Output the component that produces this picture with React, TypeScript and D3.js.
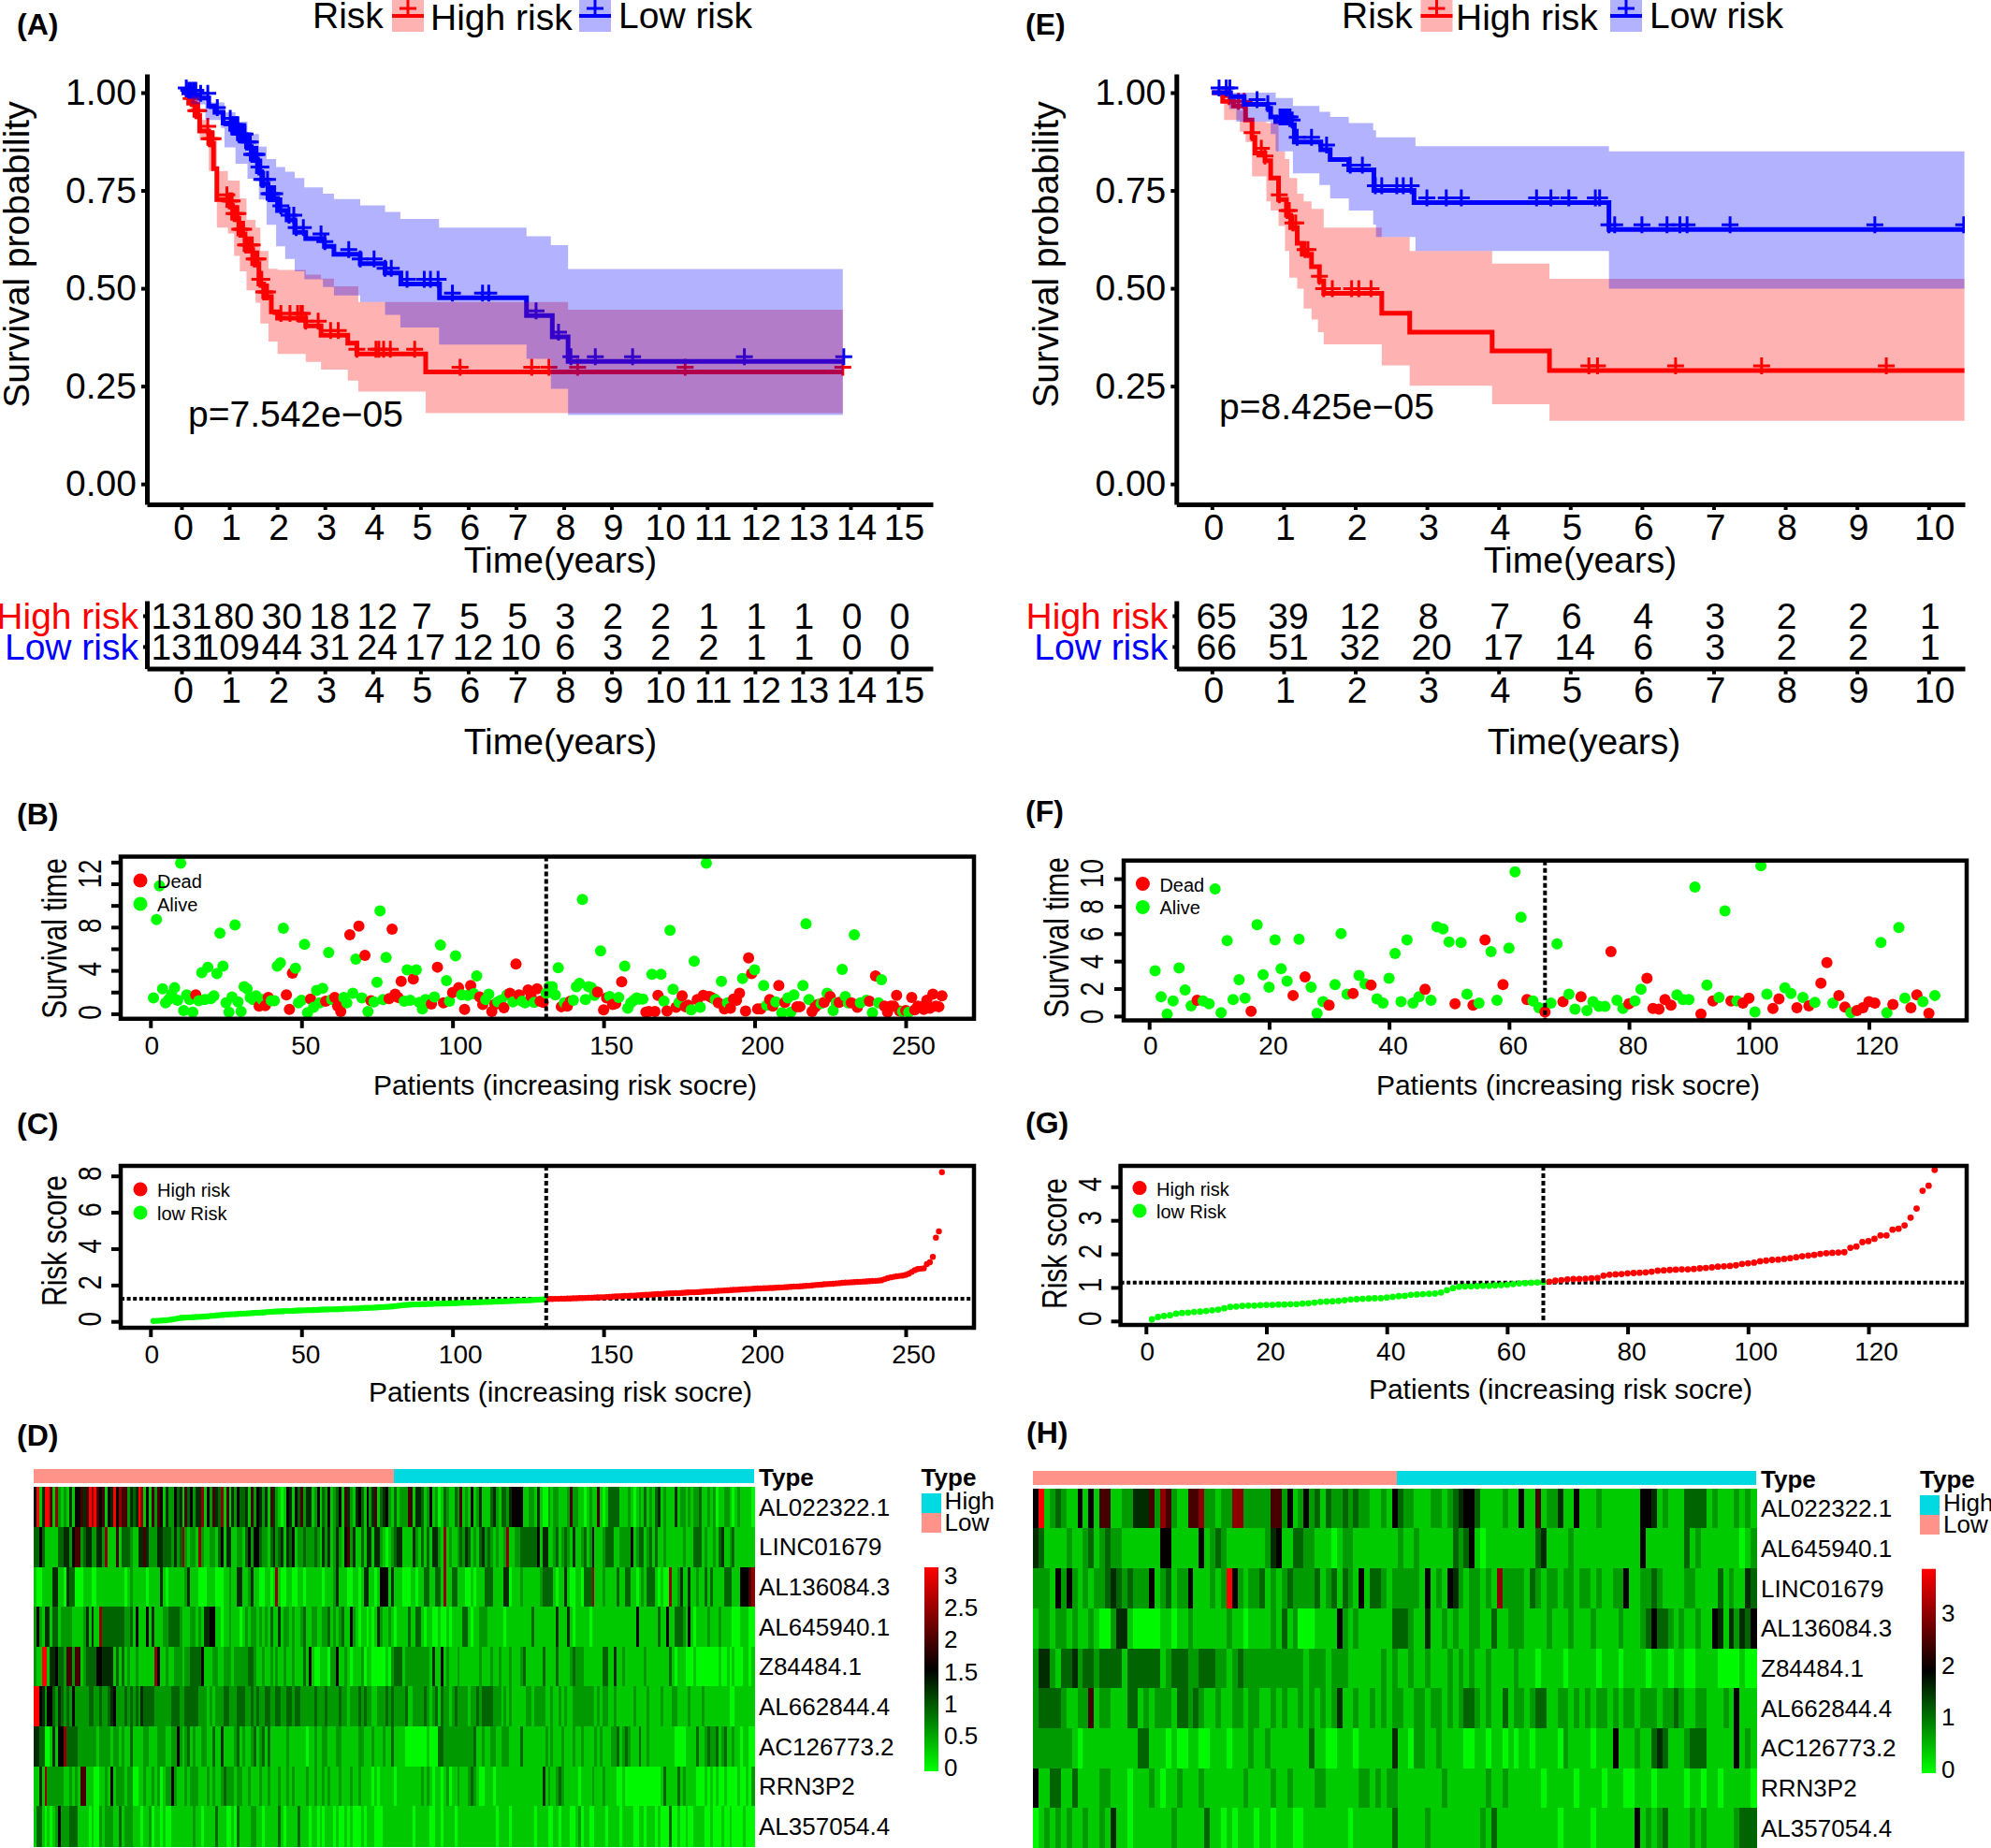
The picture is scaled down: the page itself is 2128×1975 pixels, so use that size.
import React, { useEffect, useRef } from 'react';
import * as d3 from 'd3';

// ---- Kaplan-Meier curves, panel A: [years, survival]
const highCurveA = [[0, 1], [0.15, 0.973], [0.28, 0.942], [0.38, 0.902], [0.57, 0.87], [0.67, 0.806], [0.74, 0.727], [0.97, 0.711], [1.07, 0.679], [1.2, 0.639], [1.33, 0.599], [1.49, 0.563], [1.62, 0.511], [1.72, 0.479], [1.88, 0.44], [2.01, 0.424], [2.6, 0.404], [2.92, 0.38], [3.48, 0.36], [3.67, 0.332], [5.11, 0.286], [13.84, 0.286]];
const lowCurveA = [[0, 1], [0.12, 0.994], [0.38, 0.986], [0.57, 0.966], [0.7, 0.95], [0.87, 0.922], [1.03, 0.906], [1.19, 0.882], [1.36, 0.862], [1.46, 0.83], [1.59, 0.798], [1.68, 0.766], [1.81, 0.73], [2.01, 0.699], [2.21, 0.675], [2.37, 0.643], [2.6, 0.627], [2.96, 0.623], [2.99, 0.607], [3.19, 0.587], [3.74, 0.563], [4.26, 0.539], [4.59, 0.511], [5.4, 0.476], [7.22, 0.43], [7.76, 0.376], [8.09, 0.313], [13.84, 0.313]];
// ribbons: [years, lower, upper]
const highBandA = [[0, 1, 1], [0.2, 0.95, 0.99], [0.38, 0.878, 0.93], [0.57, 0.8, 0.9], [0.7, 0.72, 0.886], [0.74, 0.655, 0.8], [0.97, 0.64, 0.775], [1.1, 0.583, 0.775], [1.22, 0.543, 0.73], [1.36, 0.495, 0.675], [1.55, 0.463, 0.655], [1.65, 0.41, 0.595], [1.82, 0.364, 0.55], [2.01, 0.332, 0.547], [2.6, 0.312, 0.535], [2.92, 0.292, 0.525], [3.19, 0.292, 0.505], [3.48, 0.264, 0.505], [3.7, 0.236, 0.465], [5.11, 0.181, 0.465], [8.09, 0.181, 0.445], [13.84, 0.181, 0.445]];
const lowBandA = [[0, 1, 1], [0.2, 0.97, 1], [0.5, 0.93, 0.975], [0.83, 0.91, 0.975], [0.9, 0.86, 0.95], [1.13, 0.818, 0.926], [1.38, 0.78, 0.894], [1.62, 0.727, 0.862], [1.78, 0.662, 0.83], [1.98, 0.607, 0.81], [2.17, 0.575, 0.798], [2.37, 0.543, 0.782], [2.57, 0.523, 0.758], [2.96, 0.503, 0.742], [3.19, 0.482, 0.728], [3.74, 0.465, 0.712], [4.26, 0.432, 0.695], [4.58, 0.4, 0.677], [5.39, 0.356, 0.655], [7.22, 0.32, 0.633], [7.73, 0.243, 0.61], [8.09, 0.176, 0.549], [13.84, 0.176, 0.549]];
const highCensorA = [0.2, 0.25, 0.3, 0.33, 0.36, 0.55, 0.58, 0.62, 0.66, 0.95, 1.0, 1.03, 1.06, 1.1, 1.14, 1.18, 1.22, 1.26, 1.3, 1.34, 1.37, 1.4, 1.44, 1.48, 1.52, 1.56, 1.6, 1.64, 1.68, 1.72, 1.76, 1.8, 2.08, 2.27, 2.43, 2.5, 2.53, 2.6, 2.86, 3.12, 3.28, 3.67, 4.07, 4.13, 4.23, 4.37, 4.88, 5.83, 7.33, 7.69, 8.29, 10.54, 13.84];
const lowCensorA = [0.1, 0.15, 0.2, 0.25, 0.3, 0.4, 0.55, 0.75, 1.02, 1.05, 1.08, 1.12, 1.15, 1.18, 1.2, 1.23, 1.27, 1.3, 1.33, 1.36, 1.4, 1.44, 1.47, 1.5, 1.53, 1.56, 1.58, 1.62, 1.66, 1.68, 1.72, 1.8, 1.83, 1.86, 1.9, 1.95, 2.08, 2.25, 2.35, 2.4, 2.55, 2.92, 3.0, 3.5, 3.74, 4.03, 4.26, 4.39, 4.72, 5.08, 5.21, 5.37, 5.67, 6.3, 6.43, 7.42, 7.89, 8.15, 8.66, 9.44, 11.78, 13.86];

// ---- Kaplan-Meier curves, panel E
const highCurveE = [[0, 1], [0.15, 0.978], [0.3, 0.966], [0.47, 0.93], [0.56, 0.886], [0.6, 0.846], [0.74, 0.826], [0.82, 0.782], [0.93, 0.727], [1.04, 0.687], [1.1, 0.655], [1.19, 0.615], [1.26, 0.587], [1.39, 0.555], [1.5, 0.519], [1.56, 0.487], [2.37, 0.436], [2.76, 0.388], [3.91, 0.34], [4.71, 0.29], [10.5, 0.29]];
const lowCurveE = [[0, 1], [0.26, 0.99], [0.45, 0.97], [0.78, 0.96], [0.82, 0.938], [0.89, 0.926], [1.1, 0.918], [1.15, 0.874], [1.52, 0.854], [1.65, 0.829], [1.91, 0.803], [2.26, 0.75], [2.82, 0.719], [5.54, 0.65], [10.5, 0.65]];
const highBandE = [[0, 1, 1], [0.17, 0.93, 0.98], [0.39, 0.9, 0.954], [0.47, 0.874, 0.926], [0.56, 0.786, 0.926], [0.76, 0.722, 0.922], [0.82, 0.699, 0.922], [0.93, 0.659, 0.85], [1.02, 0.595, 0.83], [1.08, 0.527, 0.782], [1.19, 0.499, 0.742], [1.28, 0.448, 0.722], [1.39, 0.42, 0.703], [1.48, 0.388, 0.703], [1.56, 0.357, 0.655], [2.37, 0.303, 0.631], [2.76, 0.251, 0.595], [3.91, 0.204, 0.563], [4.71, 0.161, 0.524], [10.5, 0.161, 0.524]];
const lowBandE = [[0, 1, 1], [0.24, 0.958, 1], [0.34, 0.926, 1], [0.82, 0.894, 1], [0.89, 0.85, 0.986], [1.13, 0.794, 0.966], [1.5, 0.764, 0.951], [1.65, 0.73, 0.938], [1.91, 0.699, 0.922], [2.25, 0.663, 0.904], [2.29, 0.631, 0.886], [2.76, 0.631, 0.886], [2.84, 0.595, 0.863], [5.54, 0.499, 0.85], [10.5, 0.499, 0.85]];
const highCensorE = [0.24, 0.37, 0.45, 0.56, 0.69, 0.74, 0.94, 1.05, 1.08, 1.13, 1.17, 1.3, 1.34, 1.5, 1.56, 1.68, 1.95, 2.05, 2.22, 5.26, 5.38, 6.47, 7.67, 9.41];
const lowCensorE = [0.1, 0.2, 0.25, 0.63, 0.78, 0.95, 0.98, 1.0, 1.03, 1.06, 1.09, 1.12, 1.19, 1.39, 1.6, 1.93, 2.1, 2.28, 2.37, 2.58, 2.67, 2.78, 3.0, 3.27, 3.48, 4.53, 4.73, 4.98, 5.35, 5.41, 5.54, 5.62, 6.0, 6.35, 6.53, 6.63, 7.23, 9.25, 10.49];

// ---- numbers at risk
const yearsA = d3.range(0, 16);
const yearsE = d3.range(0, 11);
const atRiskHighA = [131, 80, 30, 18, 12, 7, 5, 5, 3, 2, 2, 1, 1, 1, 0, 0];
const atRiskLowA = [131, 109, 44, 31, 24, 17, 12, 10, 6, 3, 2, 2, 1, 1, 0, 0];
const atRiskHighE = [65, 39, 12, 8, 7, 6, 4, 3, 2, 2, 1];
const atRiskLowE = [66, 51, 32, 20, 17, 14, 6, 3, 2, 2, 1];
const survTicks = [0, 0.25, 0.5, 0.75, 1];

// ---- survival status scatter, panel B: [patient, years]
const aliveB = [[1, 1.45], [2, 8.7], [3, 11.8], [4, 2.3], [5, 1], [6, 1.3], [7, 1.8], [8, 2.4], [9, 1.25], [10, 13.9], [11, 0.3], [12, 1.75], [13, 1.3], [14, 0.15], [16, 1.2], [17, 3.8], [18, 1.3], [19, 4.3], [20, 1.4], [21, 1.65], [22, 3.7], [23, 7.45], [24, 4.4], [25, 1], [26, 0.15], [27, 1.55], [28, 8.2], [29, 1.1], [30, 0.2], [31, 2.5], [32, 2.3], [33, 1.5], [34, 1.3], [35, 1.65], [37, 1.3], [40, 1.2], [41, 1.2], [42, 4.4], [43, 4.7], [44, 7.9], [48, 4.2], [49, 1], [50, 1.25], [51, 6.4], [52, 0.1], [54, 0.6], [55, 2.15], [56, 1], [57, 2.35], [59, 5.65], [60, 1.3], [64, 1.5], [65, 1], [67, 1.9], [68, 5.05], [70, 1.45], [72, 0.2], [74, 1.1], [75, 2.9], [76, 9.5], [77, 1.3], [78, 5.2], [84, 1.15], [85, 4.05], [86, 1.25], [88, 4.05], [89, 1.05], [90, 0.45], [91, 1.3], [92, 1.2], [94, 1.55], [96, 6.35], [98, 3.05], [99, 1.15], [101, 5.35], [103, 1.75], [105, 1.7], [107, 1.85], [108, 3.5], [111, 1.3], [112, 1.8], [115, 1.1], [116, 1.25], [118, 1.75], [120, 1.1], [123, 1.15], [124, 1], [127, 1.05], [131, 1.9], [132, 2.5], [133, 2.5], [134, 1.75], [135, 4.25], [137, 1], [140, 1.25], [141, 2.5], [142, 2.8], [143, 10.55], [144, 1.3], [145, 2.5], [146, 2.4], [147, 1.7], [149, 5.8], [152, 1.6], [155, 1.5], [157, 4.4], [158, 0.5], [159, 1], [160, 1.25], [161, 1.45], [162, 1.35], [163, 1.35], [166, 3.65], [169, 3.65], [170, 1.15], [172, 7.7], [173, 2.25], [175, 1.05], [179, 0.35], [180, 4.85], [182, 0.6], [184, 13.9], [187, 1.3], [189, 3], [191, 1], [196, 3.25], [200, 4.05], [203, 2.6], [204, 0.8], [207, 1.1], [209, 0.1], [211, 1.45], [212, 0.15], [213, 1.75], [216, 2.6], [217, 8.3], [218, 1.3], [222, 0.95], [224, 1.9], [226, 0.3], [227, 1], [229, 4.1], [230, 1.6], [231, 1], [233, 7.3], [235, 1], [237, 1.25], [239, 0.1], [241, 1], [242, 3.15], [249, 0.2], [251, 0.15]];
const deadB = [[15, 1.75], [36, 0.7], [38, 0.75], [39, 1.5], [45, 1.75], [46, 0.4], [47, 3.75], [53, 1.35], [58, 1.15], [61, 1.5], [62, 0.7], [63, 0.2], [66, 7.3], [69, 8.1], [71, 5.4], [73, 1.2], [79, 1.4], [80, 7.8], [81, 1.8], [82, 1.5], [83, 3], [87, 3.2], [93, 0.9], [95, 4.3], [97, 1], [100, 1.95], [102, 2.4], [104, 0.4], [106, 2.6], [109, 1.55], [110, 0.85], [113, 0.2], [114, 0.85], [117, 0.55], [119, 1.9], [121, 4.6], [122, 1.75], [125, 2.2], [126, 1.6], [128, 2.3], [129, 1.15], [130, 1.05], [136, 0.65], [138, 0.7], [139, 1.15], [148, 2], [150, 0.35], [151, 1.45], [153, 0.85], [154, 0.95], [156, 2.95], [164, 0.15], [165, 0.2], [167, 0.2], [168, 1.7], [171, 0.25], [174, 0.6], [176, 1.65], [177, 0.65], [178, 0.8], [181, 1.3], [183, 1.7], [185, 1.6], [186, 1.45], [188, 1], [190, 0.45], [192, 0.5], [193, 1.35], [194, 1.25], [195, 1.9], [197, 0.25], [198, 5.15], [199, 3.7], [201, 0.45], [202, 0.45], [205, 1.3], [206, 0.7], [208, 2.6], [210, 1.05], [214, 0.65], [215, 0.65], [219, 0.2], [220, 0.6], [221, 0.85], [223, 1.05], [225, 1.6], [228, 1.05], [232, 1], [234, 0.6], [238, 1.15], [240, 3.5], [243, 0.7], [244, 0.15], [245, 0.7], [246, 0.7], [247, 1.7], [248, 0.25], [250, 0.3], [252, 1.5], [253, 0.35], [254, 0.7], [255, 0.65], [256, 0.4], [257, 1.25], [258, 0.5], [259, 1.8], [260, 0.7], [261, 0.65], [262, 1.65]];

// ---- survival status scatter, panel F
const aliveF = [[1, 3.3], [2, 1.4], [3, 0.15], [4, 1.1], [5, 3.5], [6, 1.9], [7, 0.75], [9, 1.1], [10, 0.9], [11, 9.25], [12, 0.25], [13, 5.5], [14, 1.2], [15, 2.65], [16, 1.3], [18, 6.65], [19, 3], [20, 2.1], [21, 5.55], [22, 3.45], [23, 2.55], [25, 5.6], [27, 2.1], [28, 0.2], [29, 1.05], [31, 2.3], [32, 6], [33, 1.6], [35, 2.95], [36, 2.35], [38, 1.25], [39, 0.95], [40, 2.75], [41, 4.55], [42, 1.05], [43, 5.55], [44, 0.95], [45, 1.4], [47, 1.15], [48, 6.5], [49, 6.35], [50, 5.4], [52, 5.35], [53, 1.6], [55, 0.95], [57, 4.7], [58, 1.15], [60, 4.95], [61, 10.5], [62, 7.2], [64, 1.1], [65, 0.6], [67, 0.95], [68, 5.25], [70, 1.6], [71, 0.5], [73, 0.4], [74, 1.05], [75, 0.7], [76, 0.7], [78, 1.15], [79, 0.55], [81, 1.1], [82, 1.95], [88, 1.55], [89, 1.2], [90, 1.2], [91, 9.4], [93, 2.25], [95, 1.35], [96, 7.65], [98, 1.1], [101, 0.3], [102, 10.95], [103, 1.6], [106, 2.05], [107, 1.65], [109, 1.35], [111, 1], [114, 0.95], [117, 0.25], [122, 5.35], [123, 0.25], [125, 6.45], [126, 1.3], [129, 1.05], [131, 1.5]];
const deadF = [[8, 1.15], [17, 0.35], [24, 1.5], [26, 2.85], [30, 0.8], [34, 1.65], [37, 2.25], [46, 1.95], [51, 0.9], [54, 0.8], [56, 5.55], [59, 2.3], [63, 1.2], [66, 0.3], [69, 1.05], [72, 1.4], [77, 4.7], [80, 0.9], [83, 2.75], [84, 0.55], [85, 0.5], [86, 1.2], [87, 0.8], [92, 0.15], [94, 1.1], [97, 1.1], [99, 0.95], [100, 1.3], [104, 0.55], [105, 1.25], [108, 0.6], [110, 0.75], [112, 2.4], [113, 3.9], [115, 1.5], [116, 0.65], [118, 0.4], [119, 0.6], [120, 1.05], [121, 0.95], [124, 0.85], [127, 0.6], [128, 1.55], [130, 0.2]];

// ---- risk score, sorted by patient
const riskC = [
  0.02, 0.03, 0.04, 0.05, 0.06, 0.08, 0.1, 0.13, 0.16, 0.19, 0.2, 0.21, 0.22, 0.23, 0.24, 0.25, 0.26, 0.27, 0.28, 0.3,
  0.31, 0.33, 0.34, 0.36, 0.37, 0.38, 0.39, 0.4, 0.41, 0.42, 0.43, 0.44, 0.45, 0.46, 0.47, 0.48, 0.49, 0.5, 0.52, 0.53,
  0.54, 0.55, 0.55, 0.56, 0.57, 0.57, 0.58, 0.59, 0.6, 0.6, 0.61, 0.62, 0.62, 0.63, 0.63, 0.64, 0.65, 0.65, 0.66, 0.66,
  0.67, 0.67, 0.68, 0.69, 0.7, 0.7, 0.71, 0.71, 0.72, 0.73, 0.74, 0.74, 0.75, 0.76, 0.77, 0.78, 0.79, 0.8, 0.81, 0.82,
  0.84, 0.86, 0.88, 0.9, 0.91, 0.92, 0.93, 0.93, 0.94, 0.95, 0.95, 0.96, 0.96, 0.97, 0.97, 0.98, 0.98, 0.99, 0.99, 1,
  1, 1.01, 1.02, 1.02, 1.03, 1.03, 1.04, 1.05, 1.05, 1.06, 1.07, 1.07, 1.08, 1.09, 1.09, 1.1, 1.1, 1.11, 1.12, 1.13,
  1.13, 1.14, 1.15, 1.15, 1.16, 1.17, 1.18, 1.19, 1.2, 1.21, 1.22,
  1.23, 1.23, 1.24, 1.24, 1.25, 1.25, 1.26, 1.26, 1.27, 1.27, 1.28, 1.28, 1.29, 1.3, 1.3, 1.31, 1.32, 1.32, 1.33,
  1.34, 1.35, 1.36, 1.37, 1.38, 1.39, 1.4, 1.4, 1.41, 1.42, 1.43, 1.44, 1.45, 1.46, 1.47, 1.48, 1.49, 1.5, 1.51, 1.52,
  1.53, 1.54, 1.54, 1.55, 1.56, 1.57, 1.58, 1.59, 1.6, 1.6, 1.61, 1.62, 1.63, 1.64, 1.65, 1.66, 1.67, 1.68, 1.69, 1.7,
  1.71, 1.72, 1.73, 1.74, 1.75, 1.76, 1.77, 1.78, 1.79, 1.8, 1.81, 1.81, 1.82, 1.83, 1.84, 1.84, 1.85, 1.86, 1.87, 1.88,
  1.89, 1.9, 1.91, 1.92, 1.93, 1.94, 1.95, 1.96, 1.98, 2, 2.01, 2.02, 2.04, 2.05, 2.06, 2.07, 2.09, 2.1, 2.12, 2.13,
  2.14, 2.15, 2.16, 2.17, 2.18, 2.19, 2.2, 2.21, 2.22, 2.23, 2.24, 2.26, 2.32, 2.38, 2.42, 2.45, 2.48, 2.5, 2.52, 2.56,
  2.62, 2.72, 2.82, 2.88, 2.9, 2.92, 3.15, 3.25, 3.55, 4.6, 4.95, 8.2,
];
const riskG = [
  0.05, 0.12, 0.15, 0.17, 0.22, 0.24, 0.25, 0.27, 0.28, 0.3, 0.32, 0.34, 0.38, 0.42, 0.43, 0.45, 0.46, 0.46, 0.47, 0.48,
  0.48, 0.49, 0.49, 0.5, 0.5, 0.52, 0.53, 0.55, 0.57, 0.58, 0.59, 0.6, 0.62, 0.64, 0.65, 0.66, 0.67, 0.68, 0.68, 0.7,
  0.72, 0.74, 0.75, 0.78, 0.79, 0.8, 0.81, 0.82, 0.85, 0.92, 0.98, 1.02, 1.03, 1.03, 1.04, 1.05, 1.05, 1.06, 1.07, 1.08,
  1.1, 1.12, 1.13, 1.14, 1.15, 1.16,
  1.17, 1.2, 1.22, 1.24, 1.25, 1.25, 1.26, 1.27, 1.28, 1.35, 1.38, 1.39, 1.4, 1.42, 1.43, 1.44, 1.45, 1.47, 1.5, 1.51,
  1.52, 1.53, 1.54, 1.54, 1.55, 1.57, 1.58, 1.6, 1.62, 1.63, 1.64, 1.66, 1.7, 1.72, 1.74, 1.78, 1.8, 1.82, 1.83, 1.85,
  1.87, 1.9, 1.93, 1.95, 1.97, 2, 2.02, 2.03, 2.04, 2.05, 2.18, 2.22, 2.35, 2.38, 2.45, 2.55, 2.55, 2.72, 2.75, 2.85,
  3.08, 3.35, 3.88, 4.03, 4.5,
];

// ---- heatmaps. One digit per patient: an index into the level arrays below
const genesD = ['AL022322.1', 'LINC01679', 'AL136084.3', 'AL645940.1', 'Z84484.1', 'AL662844.4', 'AC126773.2', 'RRN3P2', 'AL357054.4'];
const genesH = ['AL022322.1', 'AL645940.1', 'LINC01679', 'AL136084.3', 'Z84484.1', 'AL662844.4', 'AC126773.2', 'RRN3P2', 'AL357054.4'];
const levelsD = [0.04, 0.33, 0.62, 0.95, 1.3, 1.6, 2.0, 2.45, 3.13, 3.13];
const levelsH = [0.05, 0.4, 0.76, 1.17, 1.6, 1.97, 2.46, 3.0, 3.85, 3.85];
const rowsD = [
  '5814886172 1214155646 8786561548 5766243487 1516265142 2534163524 4715264371 6142533416 2542416421 0154153624 4125132512 3516421453 1524613452 1312226614 4312512013 2113261215 1241113421 3324555511 2214100212 2111262211 0121161013 3331112101 2131213412 1114122121 2231121201 1221012111 10',
  '3353111113 3442566234 4224427111 6133321144 6422244333 2423721221 7211221351 4411221352 5532213423 4143512232 2232142412 4215624113 1441442101 2344111142 1313144217 1211232431 2134232121 1271122333 3335144112 3123214112 3125111233 3112222512 3312313112 1111112111 3331211213 4112311111 11',
  '1001111441 1043300011 1001111111 1110121111 1011114101 1111124111 0001110001 1211441124 1100110171 0011001101 1111101112 4111001101 4411015551 4111000110 1133113317 1133111001 0111333111 1440111211 1111233331 0114100110 3337111211 1131133110 1213331010 0711241141 1211313111 1333111555 67',
  '2521441331 2222111124 1411733333 3332231511 1514111223 3332111221 2144551101 1211101212 2121213114 1221211231 1221122312 1231152101 1010142112 1011113113 3101100100 1011113310 1122211111 1011111111 1311111111 4111410111 1101111111 1111111115 1111111311 5113332151 0111121112 1111000111 00',
  '2118814453 3266266123 3335544441 3131211211 1111751121 1222122333 3511122112 2212222233 2112112121 1211211131 5100111022 5112101112 0110000010 2333122222 2222141151 2111211111 1121112112 1112111231 1111131111 3111123222 1111111331 1411211111 1121111111 1310111000 1000000001 0010100011 01',
  '8854255324 3232522222 3322322345 2223232324 3333222222 3332233333 2221212223 3222333223 2322332233 2233233222 2232223222 2322122232 3221122232 3222231122 2232123132 2123222212 2323333222 1212111112 2122221121 1212112222 2222121221 1211111121 1112111121 1122111121 1112111111 1110011111 11',
  '4433001415 5733332222 2221222212 2121131111 2211122211 2252123121 1221131141 1112312112 3123131111 1121111110 1121122111 2211111122 1112111211 3111100000 0001000332 2222222222 3112112211 2221111311 1111112121 1121112112 1111212111 2231232111 3112111111 1110000111 1311232231 2311211011 00',
  '1141722222 2112121661 1100112151 2221220011 2112120122 5211121222 1112121123 2221221121 1121121112 1121211112 1121121211 1211121121 1110101111 1011111111 1212101101 2011211123 2100111011 1111111111 1111141211 2321111101 1112111211 1100100000 0000000013 1111312111 1000101010 0100001001 02',
  '1331010125 2223331111 0100212221 1312221110 1120110100 1111111121 1011113111 0010311112 2110111113 1011113111 0110101110 1001010001 0111000111 1111111101 1111001101 1110111111 1111111101 1110111111 1101111001 1011100120 1100111101 1110111100 1101110100 0300100100 1111001000 1001000010 00',
];
const rowsH = [
  '5812321151 5166112244 4627621166 7221227722 2226625125 2313223232 2112153221 1122123455 3111121151 1612241151 1121111111 5541211133 3312111212 1',
  '4311112112 3123221111 1115511111 5123211111 1124511332 2111012211 1111112112 1111113235 1011111111 1341111211 1111111111 5111111131 2111111101 2',
  '2221525212 1223432322 2512312251 1121285212 2312123222 2312313215 1332122222 1512154212 2121722221 3212212212 2121122511 2232111122 1111312114 3',
  '1221221211 2100244100 0001101121 1111121101 1112131200 0111152121 1111133321 1411212112 2113112221 1112111211 1211112111 2353321211 2115414243 5',
  '2442133423 3233331333 3331233322 3332212322 2222222221 2221222111 1112121121 1211121212 1121111211 1011110111 1101110111 1011101100 1111000010 0',
  '2333321122 6122111331 2122213323 2112112212 2112121121 2121241121 1212122112 2122121233 2121131221 2331122121 2122121221 2221223211 2211121511 1',
  '2222222101 1111111113 3111010011 0011101112 1121111111 3110011101 1111141102 2112111100 1101101011 0111102111 1011151112 1134311123 3311111512 1',
  '5113311311 1122111011 1210112111 2111111121 1112112111 1221111112 2121221111 1111211111 1121121111 1101111101 1110111001 1101111101 1011011111 0',
  '0121212112 1121411011 1111121111 1311010111 0110111001 1111111011 1111131111 1211111111 1213111111 1111101111 1011111115 1212311112 1211111233 3',
];
const legendTicksD = [0, 0.5, 1, 1.5, 2, 2.5, 3];
const legendTicksH = [0, 1, 2, 3];

const FONT = '"Liberation Sans", Arial, sans-serif';
const RED = '#ff0000';
const BLUE = '#0000ff';
const GREEN = '#00ff00';
const PINK = '#ff9289';
const CYAN = '#00dae0';
const KM_SIZE = 39;

const putText = (g, x, y, str, o: any = {}) =>
  g.append('text')
    .attr('transform', `translate(${x},${y})${o.rotate ? ` rotate(${o.rotate})` : ''}${o.scaleY ? ` scale(1,${o.scaleY})` : ''}`)
    .attr('dy', '.35em')
    .attr('text-anchor', o.anchor ?? 'start')
    .attr('font-size', o.size ?? KM_SIZE)
    .attr('font-weight', o.weight ?? 'normal')
    .attr('fill', o.fill ?? '#000')
    .text(str);

const cleanAxis = (g, width) => {
  g.selectAll('path.domain').attr('stroke', '#000').attr('stroke-width', width);
  g.selectAll('.tick line').attr('stroke', '#000').attr('stroke-width', 4);
  g.selectAll('text').attr('font-family', FONT).attr('fill', '#000');
};

// in the reference wider labels sit a bit to the right of their tick
const kmNudge = v => (String(v).length > 1 ? 6 : 1.5);
const patientNudge = v => [1, 4, 8][String(v).length - 1];

function drawKM(svg, c) {
  const x = d3.scaleLinear().domain(c.xDomain).range([c.left, c.right]);
  const y = d3.scaleLinear().domain([0, 1]).range([517.2, 99]);
  const id = `clip${c.tag}`;
  svg.append('clipPath').attr('id', id).append('rect')
    .attr('x', c.left).attr('y', 70).attr('width', c.right - c.left).attr('height', 470);
  const plot = svg.append('g').attr('clip-path', `url(#${id})`);

  const line = d3.line().x(d => x(d[0])).y(d => y(d[1])).curve(d3.curveStepAfter);
  const band = d3.area().x(d => x(d[0])).y0(d => y(d[1])).y1(d => y(d[2])).curve(d3.curveStepAfter);
  const bis = d3.bisector(d => d[0]).right;

  c.series.forEach(s => {
    plot.append('path').attr('d', line(s.curve)).attr('fill', 'none')
      .attr('stroke', s.color).attr('stroke-width', 5);
    plot.selectAll(null).data(s.censor).enter().append('path')
      .attr('d', 'M-9,0H9M0,-9V9')
      .attr('transform', t => `translate(${x(t)},${y(s.curve[bis(s.curve, t) - 1][1]) - 5})`)
      .attr('fill', 'none').attr('stroke', s.color).attr('stroke-width', 3);
  });
  c.series.forEach(s => {
    plot.append('path').attr('d', band(s.band)).attr('fill', s.color).attr('fill-opacity', 0.3);
  });

  // survival axes
  const xAxis = svg.append('g').attr('transform', 'translate(0,539)')
    .call(d3.axisBottom(x).tickValues(c.years).tickFormat(d3.format('d')).tickSize(6).tickSizeOuter(0));
  xAxis.selectAll('text').attr('font-size', KM_SIZE).attr('y', 10).attr('x', kmNudge);
  cleanAxis(xAxis, 5);
  const yScaleLong = d3.scaleLinear().domain([(517.2 - 539) / 418.2, (517.2 - 79) / 418.2]).range([539, 79]);
  const yAxis = svg.append('g').attr('transform', `translate(${c.left},0)`)
    .call(d3.axisLeft(yScaleLong).tickValues(survTicks).tickFormat(d3.format('.2f')).tickSize(6).tickSizeOuter(0));
  yAxis.selectAll('text').attr('font-size', KM_SIZE).attr('x', -11);
  cleanAxis(yAxis, 5);

  putText(svg, c.left - 140, 272, 'Survival probability', { rotate: -90, anchor: 'middle' });
  putText(svg, c.xLabel[0], 598, 'Time(years)', { anchor: 'middle' });
  putText(svg, c.pX, c.pY, c.pText);

  // legend along the top
  putText(svg, c.legend[0], 16, 'Risk');
  [[c.legend[1], RED, 'High risk', c.legend[2], 18], [c.legend[3], BLUE, 'Low risk', c.legend[4], 16]].forEach(([kx, col, name, tx, ty]: any) => {
    svg.append('rect').attr('x', kx).attr('y', 0).attr('width', 34).attr('height', 34).attr('fill', col).attr('fill-opacity', 0.3);
    svg.append('line').attr('x1', kx).attr('x2', kx + 34).attr('y1', 17).attr('y2', 17).attr('stroke', col).attr('stroke-width', 4);
    svg.append('path').attr('d', `M${kx + 8},9H${kx + 26}M${kx + 17},0V18`).attr('stroke', col).attr('stroke-width', 3).attr('fill', 'none');
    putText(svg, tx, ty, name);
  });

  // numbers at risk
  const rows = d3.scalePoint().domain(['High risk', 'Low risk']).range([658, 691]);
  const tableX = svg.append('g').attr('transform', 'translate(0,714.6)')
    .call(d3.axisBottom(x).tickValues(c.years).tickFormat(d3.format('d')).tickSize(6).tickSizeOuter(0));
  tableX.selectAll('text').attr('font-size', KM_SIZE).attr('y', 9).attr('x', kmNudge);
  cleanAxis(tableX, 5);
  const tableY = svg.append('g').attr('transform', `translate(${c.left},0)`)
    .call(d3.axisLeft(d3.scaleLinear().domain([642, 714.6]).range([642, 714.6])).tickValues([658, 691]).tickFormat(() => '').tickSize(4).tickSizeOuter(0));
  cleanAxis(tableY, 5);
  [['High risk', c.atRiskHigh, RED], ['Low risk', c.atRiskLow, BLUE]].forEach(([name, vals, col]: any) => {
    putText(svg, c.left - 9, rows(name), name, { anchor: 'end', fill: col });
    vals.forEach((v, i) => {
      const digits = String(v).length;
      putText(svg, x(c.years[i]) + (digits === 1 ? 1.5 : digits === 2 ? 5 : 0), rows(name), v, { anchor: 'middle' });
    });
  });
  putText(svg, c.xLabel[1], 792, 'Time(years)', { anchor: 'middle' });
}

function drawPatients(svg, c) {
  const { left, right, top, bottom } = c.box;
  const x = d3.scaleLinear().domain(c.xDomain).range(c.xRange);
  const y = d3.scaleLinear().domain(c.yDomain).range(c.yRange);

  if (c.hline !== undefined) {
    svg.append('line').attr('x1', left).attr('x2', right).attr('y1', y(c.hline)).attr('y2', y(c.hline))
      .attr('stroke', '#000').attr('stroke-width', 4).attr('stroke-dasharray', '4 2.6');
  }
  svg.selectAll(null).data(c.points).enter().append('circle')
    .attr('cx', d => x(d[0])).attr('cy', d => y(d[1])).attr('r', c.r).attr('fill', d => d[2]);
  svg.append('line').attr('x1', x(c.vline)).attr('x2', x(c.vline)).attr('y1', top).attr('y2', bottom)
    .attr('stroke', '#000').attr('stroke-width', 4).attr('stroke-dasharray', '5 3');
  svg.append('rect').attr('x', left).attr('y', top).attr('width', right - left).attr('height', bottom - top)
    .attr('fill', 'none').attr('stroke', '#000').attr('stroke-width', 4.5);

  const xAxis = svg.append('g').attr('transform', `translate(0,${bottom})`)
    .call(d3.axisBottom(x).tickValues(c.xTicks).tickSize(10).tickSizeOuter(0));
  xAxis.select('path.domain').remove();
  xAxis.selectAll('text').attr('font-size', 28).attr('y', c.xTickY - bottom - 10).attr('x', patientNudge);
  cleanAxis(xAxis, 0);

  const yAxis = svg.append('g').attr('transform', `translate(${left},0)`)
    .call(d3.axisLeft(y).tickValues(c.yTicks).tickFormat(d => (c.yLabels.includes(d) ? d : '')).tickSize(10).tickSizeOuter(0));
  yAxis.select('path.domain').remove();
  yAxis.selectAll('text').attr('font-size', 28).attr('x', 0).attr('dy', 0).attr('text-anchor', 'middle')
    .attr('transform', d => `translate(${c.yTickX - left + 12.5},${d >= 10 ? c.yShiftTwoDigit : c.yShift}) rotate(-90) scale(1,1.25)`);
  cleanAxis(yAxis, 0);

  putText(svg, c.yTitleX, c.yTitleY, c.yTitle, { rotate: -90, anchor: 'middle', size: 30, scaleY: 1.2 });
  putText(svg, c.xTitleX, c.xTitleY, 'Patients (increasing risk socre)', { anchor: 'middle', size: 30 });

  c.legend.forEach(([name, col, ly]) => {
    svg.append('circle').attr('cx', c.legendX).attr('cy', ly).attr('r', 7.5).attr('fill', col);
    putText(svg, c.legendX + 18, ly + 1, name, { size: 20 });
  });
}

function drawHeat(svg, c) {
  const rows = c.rows.map(r => r.replace(/ /g, ''));
  const n = rows[0].length;
  const x = d3.scaleLinear().domain([0, n]).range([c.left, c.right]);
  const y = d3.scaleBand().domain(c.genes).range([c.top, c.bottom]);
  const color = d3.scaleLinear<string>().domain(c.colorDomain).range([GREEN, '#000000', RED]);

  const g = svg.append('g').attr('shape-rendering', 'crispEdges');
  c.genes.forEach((gene, r) => {
    g.selectAll(null).data(rows[r].split('')).enter().append('rect')
      .attr('x', (_, i) => x(i)).attr('y', y(gene))
      .attr('width', (c.right - c.left) / n + 0.6).attr('height', y.bandwidth() + 0.5)
      .attr('fill', d => color(c.levels[+d]));
    putText(svg, c.right + 5, y(gene) + y.bandwidth() / 2, gene, { size: 26 });
  });

  // annotation bar
  g.append('rect').attr('x', c.left).attr('y', c.barY).attr('width', c.split - c.left).attr('height', 15).attr('fill', PINK);
  g.append('rect').attr('x', c.split).attr('y', c.barY).attr('width', c.right - c.split).attr('height', 15).attr('fill', CYAN);
  putText(svg, c.right + 5, c.barY + 9, 'Type', { size: 26, weight: 'bold' });

  // type legend
  putText(svg, c.keyX, c.barY + 9, 'Type', { size: 26, weight: 'bold' });
  g.append('rect').attr('x', c.keyX).attr('y', c.keyY).attr('width', 21).attr('height', 21).attr('fill', CYAN);
  g.append('rect').attr('x', c.keyX).attr('y', c.keyY + 21).attr('width', 21).attr('height', 21).attr('fill', PINK);
  putText(svg, c.keyX + 25, c.keyY + 8, 'High', { size: 26 });
  putText(svg, c.keyX + 25, c.keyY + 31, 'Low', { size: 26 });

  // colour bar
  const gradId = `grad${c.tag}`;
  const grad = svg.append('linearGradient').attr('id', gradId).attr('x1', 0).attr('x2', 0).attr('y1', 1).attr('y2', 0);
  [0, 0.5, 1].forEach((o, i) => grad.append('stop').attr('offset', o).attr('stop-color', [GREEN, '#000000', RED][i]));
  svg.append('rect').attr('x', c.cbX).attr('y', c.cbTop).attr('width', 15).attr('height', c.cbBottom - c.cbTop)
    .attr('fill', `url(#${gradId})`);
  const scale = d3.scaleLinear().domain(c.cbDomain).range(c.cbRange);
  c.cbTicks.forEach(t => putText(svg, c.cbX + 21, scale(t), t, { size: 26 }));
}

const App: React.FC = () => {
  const ref = useRef(null);

  useEffect(() => {
    const svg = d3.select(ref.current);
    svg.selectAll('*').remove();
    svg.attr('font-family', FONT);

    // panel letters
    [['(A)', 18, 26], ['(E)', 1096, 26], ['(B)', 18, 870], ['(F)', 1096, 867], ['(C)', 18, 1201], ['(G)', 1096, 1200], ['(D)', 18, 1534], ['(H)', 1097, 1531]]
      .forEach(([s, px, py]) => putText(svg, px, py, s, { size: 32, weight: 'bold' }));

    drawKM(svg, {
      tag: 'A', left: 157, right: 997, xDomain: [(157 - 194) / 51.07, (997 - 194) / 51.07], years: yearsA, xLabel: [599, 599],
      series: [{ color: RED, curve: highCurveA, band: highBandA, censor: highCensorA }, { color: BLUE, curve: lowCurveA, band: lowBandA, censor: lowCensorA }],
      atRiskHigh: atRiskHighA, atRiskLow: atRiskLowA, pX: 201, pY: 442, pText: 'p=7.542e\u221205',
      legend: [334, 419, 460, 619, 661],
    });
    drawKM(svg, {
      tag: 'E', left: 1257.3, right: 2100, xDomain: [(1257.3 - 1295.3) / 76.6, (2100 - 1295.3) / 76.6], years: yearsE, xLabel: [1689, 1693],
      series: [{ color: RED, curve: highCurveE, band: highBandE, censor: highCensorE }, { color: BLUE, curve: lowCurveE, band: lowBandE, censor: lowCensorE }],
      atRiskHigh: atRiskHighE, atRiskLow: atRiskLowE, pX: 1303, pY: 434, pText: 'p=8.425e\u221205',
      legend: [1434, 1518.5, 1556, 1721, 1763],
    });

    const withStatus = (dead, alive) => [...dead.map(d => [d[0], d[1], RED]), ...alive.map(d => [d[0], d[1], GREEN])].sort((a, b) => a[0] - b[0]);
    const byRisk = (risk, cut) => risk.map((v, i) => [i + 1, v, i + 1 > cut ? RED : GREEN]);

    drawPatients(svg, {
      box: { left: 129, right: 1041, top: 915.5, bottom: 1088.8 },
      xDomain: [0, 250], xRange: [160.8, 968], yDomain: [0, 12], yRange: [1083.4, 944.5],
      points: withStatus(deadB, aliveB), r: 6, vline: 131, xTicks: [0, 50, 100, 150, 200, 250], xTickY: 1117,
      yTicks: [0, 2, 4, 6, 8, 10, 12, 14], yLabels: [0, 4, 8, 12], yShift: -2, yShiftTwoDigit: -11, yTickX: 95,
      yTitle: 'Survival time', yTitleX: 58, yTitleY: 1003,
      xTitleX: 604, xTitleY: 1159, legend: [['Dead', RED, 941], ['Alive', GREEN, 966]], legendX: 150,
    });
    drawPatients(svg, {
      box: { left: 129, right: 1041, top: 1246, bottom: 1419 },
      xDomain: [0, 250], xRange: [160.8, 968], yDomain: [0, 8], yRange: [1412.2, 1256.7],
      points: byRisk(riskC, 131), r: 3.2, vline: 131, hline: 1.24, xTicks: [0, 50, 100, 150, 200, 250], xTickY: 1447,
      yTicks: [0, 2, 4, 6, 8], yLabels: [0, 2, 4, 6, 8], yShift: -3, yShiftTwoDigit: -3, yTickX: 95,
      yTitle: 'Risk score', yTitleX: 58, yTitleY: 1326,
      xTitleX: 599, xTitleY: 1487, legend: [['High risk', RED, 1271], ['low Risk', GREEN, 1296]], legendX: 150,
    });
    drawPatients(svg, {
      box: { left: 1201, right: 2102, top: 919.7, bottom: 1090.5 },
      xDomain: [0, 120], xRange: [1228.2, 1997.5], yDomain: [0, 10], yRange: [1085.9, 939.1],
      points: withStatus(deadF, aliveF), r: 6, vline: 66, xTicks: [0, 20, 40, 60, 80, 100, 120], xTickY: 1117,
      yTicks: [0, 2, 4, 6, 8, 10], yLabels: [0, 2, 4, 6, 8, 10], yShift: 0, yShiftTwoDigit: -6, yTickX: 1166,
      yTitle: 'Survival time', yTitleX: 1129, yTitleY: 1002,
      xTitleX: 1676, xTitleY: 1159, legend: [['Dead', RED, 944.5], ['Alive', GREEN, 969.4]], legendX: 1221.4,
    });
    drawPatients(svg, {
      box: { left: 1197.6, right: 2102, top: 1246, bottom: 1416 },
      xDomain: [0, 120], xRange: [1224.8, 1997], yDomain: [0, 4], yRange: [1411.8, 1268.3],
      points: byRisk(riskG, 66), r: 3.4, vline: 66, hline: 1.145, xTicks: [0, 20, 40, 60, 80, 100, 120], xTickY: 1444,
      yTicks: [0, 1, 2, 3, 4], yLabels: [0, 1, 2, 3, 4], yShift: -3, yShiftTwoDigit: -3, yTickX: 1164,
      yTitle: 'Risk score', yTitleX: 1127, yTitleY: 1329,
      xTitleX: 1668, xTitleY: 1484, legend: [['High risk', RED, 1269.6], ['low Risk', GREEN, 1294]], legendX: 1218,
    });

    drawHeat(svg, {
      tag: 'D', rows: rowsD, genes: genesD, levels: levelsD, colorDomain: [0, 1.57, 3.13],
      left: 35.8, right: 806, top: 1589.3, bottom: 1973, split: 421, barY: 1570,
      keyX: 984.6, keyY: 1596, cbX: 988, cbTop: 1675, cbBottom: 1893,
      cbDomain: [0, 3], cbRange: [1889, 1684], cbTicks: legendTicksD,
    });
    drawHeat(svg, {
      tag: 'H', rows: rowsH, genes: genesH, levels: levelsH, colorDomain: [0, 1.93, 3.85],
      left: 1104.4, right: 1877, top: 1590.7, bottom: 1975, split: 1493, barY: 1571.7,
      keyX: 2052, keyY: 1598, cbX: 2054, cbTop: 1676.7, cbBottom: 1895,
      cbDomain: [0, 3], cbRange: [1891, 1724], cbTicks: legendTicksH,
    });
  }, []);

  return (
    <svg
      ref={ref}
      width={2128}
      height={1975}
      style={{ position: 'absolute', left: 0, top: 0, background: '#fff' }}
    />
  );
};

export default App;
